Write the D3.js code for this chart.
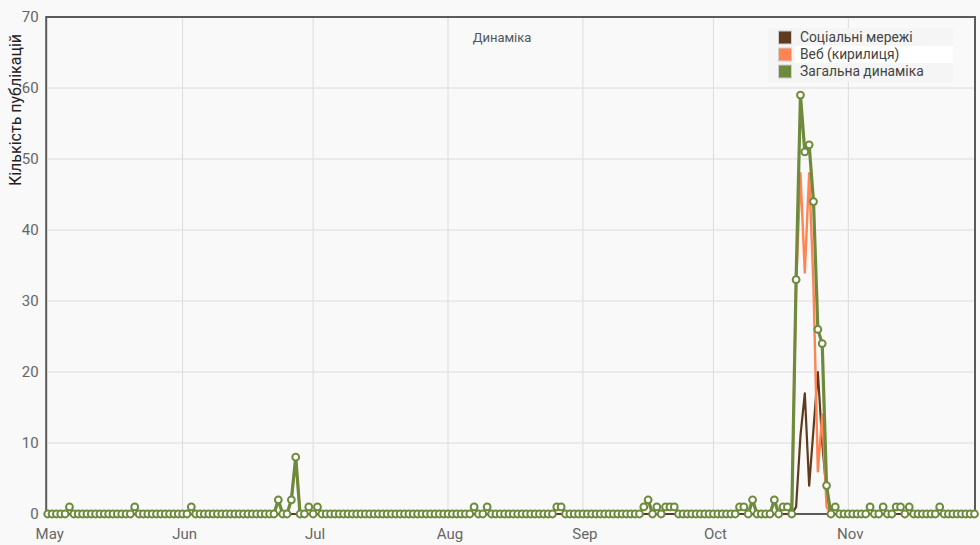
<!DOCTYPE html>
<html>
<head>
<meta charset="utf-8">
<script src="https://cdn.jsdelivr.net/npm/d3@7"></script>
<style>
  html, body { margin: 0; padding: 0; background: #f9f9f9; }
  svg { display: block; font-family: Roboto, "Noto Sans", sans-serif; }
</style>
</head>
<body>
<svg id="chart" width="980" height="545"></svg>
<script>
// ---------- DATA ----------
const startDate = [2023, 4, 1]; // May 1
const monthLabels = ["May", "Jun", "Jul", "Aug", "Sep", "Oct", "Nov"];
const yTicks = [0, 10, 20, 30, 40, 50, 60, 70];
const seriesNames = ["Соціальні мережі", "Веб (кирилиця)", "Загальна динаміка"];
const titleText = "Динаміка";
const yTitle = "Кількість публікацій";

// daily values, May 1 .. Nov 30
const totalValues = [
  0,0,0,0,0,1,0,0,0,0, 0,0,0,0,0,0,0,0,0,0, 1,0,0,0,0,0,0,0,0,0, 0,            // May
  0,0,1,0,0,0,0,0,0,0, 0,0,0,0,0,0,0,0,0,0, 0,0,2,0,0,2,8,0,0,1,              // Jun
  0,1,0,0,0,0,0,0,0,0, 0,0,0,0,0,0,0,0,0,0, 0,0,0,0,0,0,0,0,0,0, 0,            // Jul
  0,0,0,0,0,0,1,0,0,1, 0,0,0,0,0,0,0,0,0,0, 0,0,0,0,0,1,1,0,0,0, 0,            // Aug
  0,0,0,0,0,0,0,0,0,0, 0,0,0,0,1,2,0,1,0,1, 1,1,0,0,0,0,0,0,0,0,              // Sep
  0,0,0,0,0,0,1,1,0,2, 0,0,0,0,2,0,1,1,0,33, 59,51,52,44,26,24,4,0,1,0, 0,     // Oct
  0,0,0,0,0,1,0,0,1,0, 0,1,1,0,1,0,0,0,0,0, 0,1,0,0,0,0,0,0,0,0               // Nov
];
const socialValues = [
  0,0,0,0,0,0,0,0,0,0, 0,0,0,0,0,0,0,0,0,0, 0,0,0,0,0,0,0,0,0,0, 0,
  0,0,0,0,0,0,0,0,0,0, 0,0,0,0,0,0,0,0,0,0, 0,0,0,0,0,0,0,0,0,0,
  0,0,0,0,0,0,0,0,0,0, 0,0,0,0,0,0,0,0,0,0, 0,0,0,0,0,0,0,0,0,0, 0,
  0,0,0,0,0,0,0,0,0,0, 0,0,0,0,0,0,0,0,0,0, 0,0,0,0,0,0,0,0,0,0, 0,
  0,0,0,0,0,0,0,0,0,0, 0,0,0,0,0,0,0,0,0,0, 0,0,0,0,0,0,0,0,0,0,
  0,0,0,0,0,0,0,0,0,0, 0,0,0,0,0,0,0,0,0,1, 11,17,4,12,20,10,3,0,0,0, 0,
  0,0,0,0,0,0,0,0,0,0, 0,0,0,0,0,0,0,0,0,0, 0,0,0,0,0,0,0,0,0,0
];
const webValues = [
  0,0,0,0,0,1,0,0,0,0, 0,0,0,0,0,0,0,0,0,0, 1,0,0,0,0,0,0,0,0,0, 0,
  0,0,1,0,0,0,0,0,0,0, 0,0,0,0,0,0,0,0,0,0, 0,0,2,0,0,2,8,0,0,1,
  0,1,0,0,0,0,0,0,0,0, 0,0,0,0,0,0,0,0,0,0, 0,0,0,0,0,0,0,0,0,0, 0,
  0,0,0,0,0,0,1,0,0,1, 0,0,0,0,0,0,0,0,0,0, 0,0,0,0,0,1,1,0,0,0, 0,
  0,0,0,0,0,0,0,0,0,0, 0,0,0,0,1,2,0,1,0,1, 1,1,0,0,0,0,0,0,0,0,
  0,0,0,0,0,0,1,1,0,2, 0,0,0,0,2,0,1,1,0,32, 48,34,48,32,6,14,1,0,1,0, 0,
  0,0,0,0,0,1,0,0,1,0, 0,1,1,0,1,0,0,0,0,0, 0,1,0,0,0,0,0,0,0,0
];
const seriesColors = ["#5e3b1d", "#ff8452", "#6e8b3d"];

// ---------- LAYOUT ----------
(function () {
const W = 980, H = 545;
const mLeft = 47.7, mRight = 974.5, mTop = 17, mBottom = 514;

const start = new Date(startDate[0], startDate[1], startDate[2]);
const dates = totalValues.map((_, i) => d3.timeDay.offset(start, i));

const x = d3.scaleTime().domain([dates[0], dates[dates.length - 1]]).range([mLeft, mRight]);
const y = d3.scaleLinear().domain([0, 70]).range([mBottom, mTop]);

const svg = d3.select("#chart");
svg.append("rect").attr("width", W).attr("height", H).attr("fill", "#f9f9f9");

const monthTicks = d3.timeMonth.range(dates[0], d3.timeDay.offset(dates[dates.length - 1], 1));

// gridlines
svg.append("g").selectAll("line").data(monthTicks.slice(1)).join("line")
  .attr("x1", d => x(d)).attr("x2", d => x(d))
  .attr("y1", mTop).attr("y2", mBottom)
  .attr("stroke", "#dcdcdc").attr("stroke-width", 1);
svg.append("g").selectAll("line").data(yTicks.slice(1, -1)).join("line")
  .attr("x1", mLeft).attr("x2", mRight)
  .attr("y1", d => y(d)).attr("y2", d => y(d))
  .attr("stroke", "#dcdcdc").attr("stroke-width", 1);

// frame
svg.append("rect")
  .attr("x", mLeft - 1.5).attr("y", mTop)
  .attr("width", mRight - mLeft + 2).attr("height", mBottom - mTop)
  .attr("fill", "none").attr("stroke", "#5a5a5a").attr("stroke-width", 2);

// y axis
const yAxis = svg.append("g").attr("transform", `translate(${mLeft - 2},0)`)
  .call(d3.axisLeft(y).tickValues(yTicks).tickSize(0).tickPadding(7));
yAxis.select(".domain").remove();
yAxis.selectAll("text").attr("fill", "#666").attr("font-size", 15)
  .attr("font-family", "Roboto, sans-serif");

// x axis
const xAxis = svg.append("g").attr("transform", `translate(0,${mBottom})`)
  .call(d3.axisBottom(x).tickValues(monthTicks).tickSize(0).tickPadding(14)
    .tickFormat((d, i) => monthLabels[i]));
xAxis.select(".domain").remove();
xAxis.selectAll("text").attr("fill", "#666").attr("font-size", 15)
  .attr("font-family", "Roboto, sans-serif")
  .attr("dx", 1.5);

// y title
svg.append("text")
  .attr("transform", `translate(21,110) rotate(-90)`)
  .attr("text-anchor", "middle")
  .attr("font-size", 16).attr("fill", "#222")
  .text(yTitle);

// title
svg.append("text").attr("x", 502).attr("y", 42).attr("text-anchor", "middle")
  .attr("font-size", 13).attr("fill", "#555").text(titleText);

// lines
const lineGen = d3.line().x((d, i) => x(dates[i])).y(d => y(d));
const allSeries = [socialValues, webValues, totalValues];
const widths = [2.2, 2.4, 3.2];
[0, 1, 2].forEach(k => {
  svg.append("path").datum(allSeries[k])
    .attr("d", lineGen)
    .attr("fill", "none")
    .attr("stroke", seriesColors[k])
    .attr("stroke-width", widths[k])
    .attr("stroke-linejoin", "round");
});

// markers on total
svg.append("g").selectAll("circle").data(totalValues).join("circle")
  .attr("cx", (d, i) => x(dates[i]))
  .attr("cy", d => y(d))
  .attr("r", 3.4)
  .attr("fill", "#ffffff")
  .attr("stroke", seriesColors[2])
  .attr("stroke-width", 2);

// legend
const lg = svg.append("g");
lg.append("rect").attr("x", 768).attr("y", 28).attr("width", 185).attr("height", 54)
  .attr("fill", "#f5f5f5");
lg.append("rect").attr("x", 795).attr("y", 46).attr("width", 158).attr("height", 17)
  .attr("fill", "#ffffff");
seriesNames.forEach((name, i) => {
  const cy = 37.5 + i * 17;
  lg.append("rect").attr("x", 778.5).attr("y", cy - 6.5).attr("width", 13).attr("height", 13)
    .attr("fill", seriesColors[i]).attr("stroke", "#d0d0d0").attr("stroke-width", 1);
  lg.append("text").attr("x", 800).attr("y", cy + 4.7)
    .attr("font-size", 13.8).attr("fill", "#444").text(name);
});
})();
</script>
</body>
</html>
